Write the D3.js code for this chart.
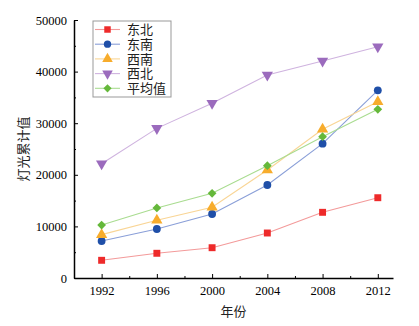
<!DOCTYPE html>
<html>
<head>
<meta charset="utf-8">
<script src="https://cdn.jsdelivr.net/npm/d3@7"></script>
<style>
body{margin:0;background:#fff;}
text{font-family:"Liberation Serif","Times New Roman",serif;}
.cjk{font-family:"Noto Sans CJK SC",sans-serif;}
</style>
</head>
<body>
<div id="chart"></div>
<script>
// light totals by region
var years = [1992, 1996, 2000, 2004, 2008, 2012];
var dongbei = [3430, 4790, 5870, 8720, 12730, 15560];
var dongnan = [7170, 9500, 12400, 18020, 26030, 36370];
var xinan = [8400, 11180, 13700, 20930, 28820, 34170];
var xibei = [22150, 29000, 33860, 39340, 42050, 44830];
var pingjun = [10270, 13570, 16410, 21760, 27380, 32690];
var yTicks = [0, 10000, 20000, 30000, 40000, 50000];

var series = [
  {name:"东北", vals:dongbei, color:"#ee2a2a", line:"#f39a9a", sym:"square"},
  {name:"东南", vals:dongnan, color:"#1f4fa8", line:"#8a9fd8", sym:"circle"},
  {name:"西南", vals:xinan, color:"#f7ac2c", line:"#f9d595", sym:"tri"},
  {name:"西北", vals:xibei, color:"#9b6bbd", line:"#cfb3df", sym:"tridown"},
  {name:"平均值", vals:pingjun, color:"#65b83a", line:"#a9dc90", sym:"diamond"}
];

var W = 419, H = 326;
var margin = {top:20, right:26, bottom:48, left:74},
w = W - margin.left - margin.right,
h = H - margin.top - margin.bottom;

var svg = d3.select("#chart").append("svg")
  .attr("width", W).attr("height", H)
  .append("g")
  .attr("transform", `translate(${margin.left},${margin.top})`);

var x = d3.scaleLinear().domain([1990, 2013.1]).range([0, w]);
var y = d3.scaleLinear().domain([0, 50000]).range([h, 0]);

// minor ticks first
svg.append("g").attr("transform", "translate(0," + h + ")")
  .call(d3.axisBottom(x).tickValues([1994, 1998, 2002, 2006, 2010]).tickSize(-2).tickFormat(""))
  .call(g => g.select(".domain").remove());
svg.append("g")
  .call(d3.axisLeft(y).tickValues([5000, 15000, 25000, 35000, 45000]).tickSize(-2).tickFormat(""))
  .call(g => g.select(".domain").remove());

var xAxis = svg.append("g").attr("transform", "translate(0," + h + ")")
  .call(d3.axisBottom(x).tickValues(years).tickSize(-4).tickSizeOuter(0).tickPadding(8).tickFormat(d3.format("d")));
var yAxis = svg.append("g")
  .call(d3.axisLeft(y).tickValues(yTicks).tickSize(-4).tickSizeOuter(0).tickPadding(7).tickFormat(d3.format("d")));

svg.selectAll(".tick line").attr("stroke", "#000").attr("stroke-width", 1);
svg.selectAll(".domain").attr("stroke", "#000").attr("stroke-width", 1.5);
svg.selectAll(".tick text").attr("font-size", "12.5px").attr("fill", "#000")
  .attr("font-family", "Liberation Serif, serif");

function symPath(s, size){
  if(s === "square") return d3.symbol().type(d3.symbolSquare).size(size)();
  if(s === "circle") return d3.symbol().type(d3.symbolCircle).size(size)();
  if(s === "diamond") return d3.symbol().type(d3.symbolSquare).size(size*0.8)();
  return d3.symbol().type(d3.symbolTriangle).size(size*1.15)();
}
function symRot(s){
  if(s === "tridown") return " rotate(180)";
  if(s === "diamond") return " rotate(45)";
  return "";
}

var line = d3.line().x((d,i) => x(years[i])).y(d => y(d));

series.forEach(function(s){
  svg.append("path").datum(s.vals)
    .attr("d", line).attr("fill", "none")
    .attr("stroke", s.line).attr("stroke-width", 1.1);
  svg.selectAll(null).data(s.vals).enter().append("path")
    .attr("d", symPath(s.sym, 48))
    .attr("transform", (d,i) => `translate(${x(years[i])},${y(d)})` + symRot(s.sym))
    .attr("fill", s.color);
});

// legend
var lg = svg.append("g").attr("transform", "translate(19,1)");
lg.append("rect").attr("width", 78).attr("height", 76)
  .attr("fill", "#fff").attr("stroke", "#999").attr("stroke-width", 1);
series.forEach(function(s, i){
  var yy = 8.5 + i * 14.7;
  lg.append("line").attr("x1", 2).attr("x2", 27).attr("y1", yy).attr("y2", yy)
    .attr("stroke", s.line).attr("stroke-width", 1.1);
  lg.append("path").attr("d", symPath(s.sym, 42))
    .attr("transform", `translate(14.5,${yy})` + symRot(s.sym))
    .attr("fill", s.color);
  lg.append("text").attr("class", "cjk").attr("x", 34).attr("y", yy)
    .attr("dy", "0.36em").attr("font-size", "13px").attr("fill", "#222")
    .text(s.name);
});

// axis titles
svg.append("text").attr("class", "cjk")
  .attr("transform", `translate(${-46},${h/2}) rotate(-90)`)
  .attr("text-anchor", "middle").attr("font-size", "13px").attr("fill", "#222")
  .text("灯光累计值");
svg.append("text").attr("class", "cjk")
  .attr("x", w/2).attr("y", h + 38)
  .attr("text-anchor", "middle").attr("font-size", "13px").attr("fill", "#222")
  .text("年份");
</script>
</body>
</html>
